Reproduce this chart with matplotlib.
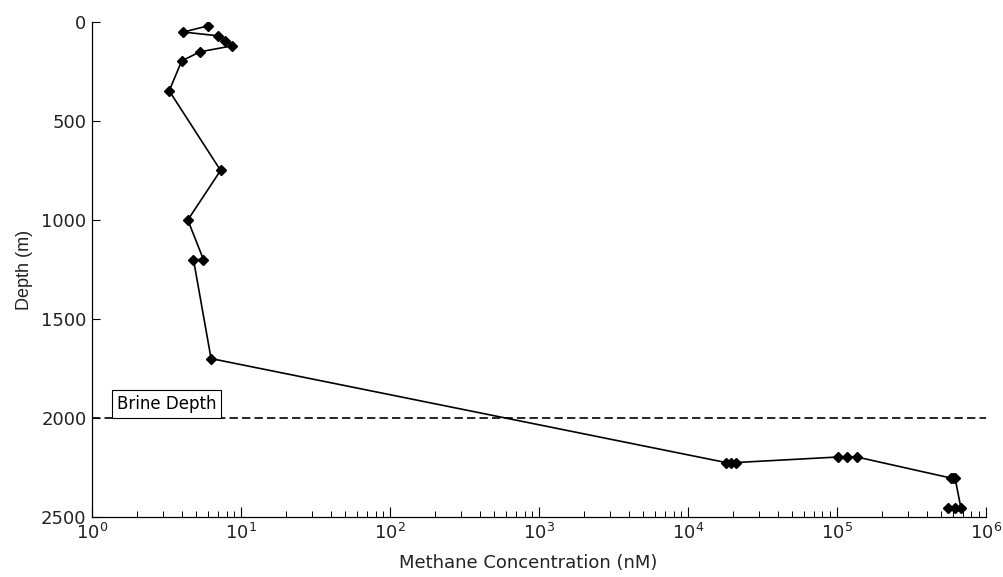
import matplotlib
matplotlib.use("Agg")
import matplotlib.pyplot as plt
from matplotlib.ticker import LogLocator, NullFormatter

plt.rcParams['font.family'] = ['DejaVu Sans']

# methane profile
methane = [6.0, 4.1, 7.0, 7.8, 8.7, 5.3, 4.0, 3.3, 7.3, 4.4, 5.6, 4.8, 6.3,
           1.8e4, 1.95e4, 2.1e4, 1.02e5, 1.17e5, 1.36e5,
           5.8e5, 6.0e5, 6.2e5, 6.8e5, 6.2e5, 5.6e5]
depth = [20, 51, 70, 95, 121, 151, 197, 348, 750, 1000, 1200, 1200, 1700,
         2225, 2225, 2225, 2197, 2197, 2197,
         2303, 2303, 2303, 2455, 2455, 2455]
brine_depth = 2000
y_ticks = [0, 500, 1000, 1500, 2000, 2500]

fig = plt.figure(figsize=(10.04, 5.77), dpi=100)
ax = fig.add_axes([0.0916, 0.104, 0.8904, 0.858])

ax.plot(methane, depth, color='black', lw=1.2, marker='D', ms=5,
        mfc='black', mec='black')
ax.axhline(brine_depth, color='black', ls='--', lw=1.2, dashes=(5, 2.5))
ax.text(1.47, 1975, 'Brine Depth', ha='left', va='bottom', fontsize=12,
        bbox=dict(boxstyle='square,pad=0.3', fc='white', ec='black', lw=0.8))

ax.set_xscale('log')
ax.set_xlim(1, 1e6)
ax.set_ylim(2500, 0)
ax.set_yticks(y_ticks)
ax.xaxis.set_major_locator(LogLocator(base=10, numticks=10))
ax.xaxis.set_minor_locator(LogLocator(base=10, subs=range(2, 10), numticks=100))
ax.xaxis.set_minor_formatter(NullFormatter())

for s in ['top', 'right']:
    ax.spines[s].set_visible(False)
for s in ['left', 'bottom']:
    ax.spines[s].set_linewidth(0.9)

ax.tick_params(which='major', direction='in', length=7, width=0.8, labelsize=13,
               pad=4, labelcolor='#222222')
ax.tick_params(which='minor', direction='in', length=4, width=0.7)
ax.tick_params(axis='y', which='major', length=6)

ax.set_xlabel('Methane Concentration (nM)', fontsize=13, color='#222222')
ax.xaxis.set_label_coords(0.488, -0.075)
ax.set_ylabel('Depth (m)', fontsize=13, labelpad=6, family='Liberation Sans',
              color='#222222')

fig.savefig('out.png', dpi=100)
